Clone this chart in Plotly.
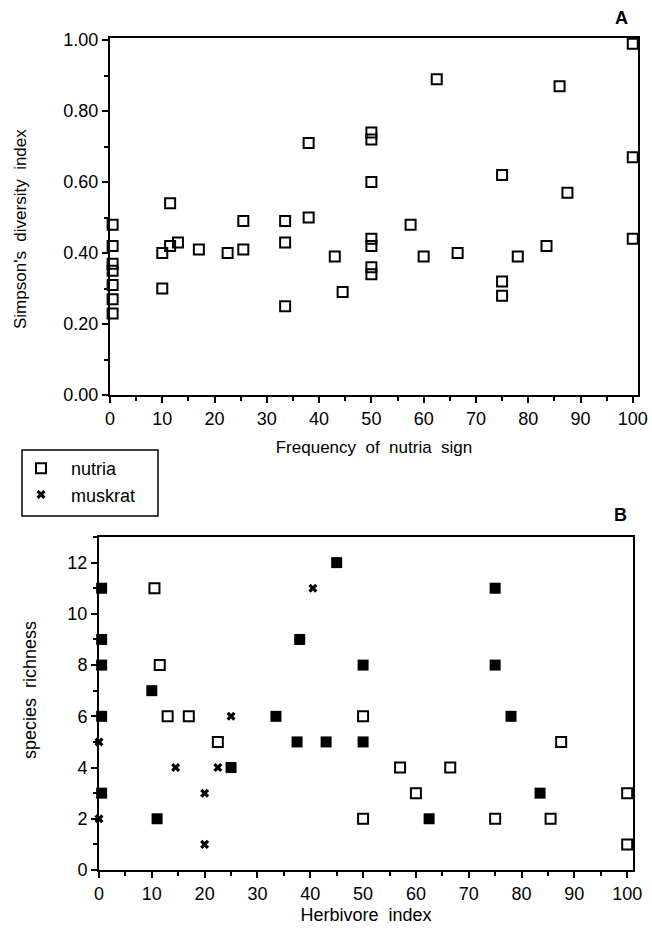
import plotly.graph_objects as go

# Panel A: Simpson's diversity vs frequency of nutria sign (nutria only)
a_x = [0.5, 0.5, 0.5, 0.5, 0.5, 0.5, 0.5,
       10, 10, 11.5, 11.5, 13, 17, 22.5, 25.5, 25.5, 33.5, 33.5, 33.5, 38, 38,
       43, 44.5, 50, 50, 50, 50, 50, 50, 50, 57.5, 60, 62.5, 66.5,
       75, 75, 75, 78, 83.5, 86, 87.5, 100, 100, 100]
a_y = [0.48, 0.42, 0.37, 0.35, 0.31, 0.27, 0.23,
       0.40, 0.30, 0.54, 0.42, 0.43, 0.41, 0.40, 0.49, 0.41, 0.49, 0.43, 0.25, 0.71, 0.50,
       0.39, 0.29, 0.74, 0.72, 0.60, 0.44, 0.42, 0.36, 0.34, 0.48, 0.39, 0.89, 0.40,
       0.62, 0.32, 0.28, 0.39, 0.42, 0.87, 0.57, 0.99, 0.67, 0.44]

# Panel B: species richness vs herbivore index
nutria_x = [10.5, 11.5, 13, 17, 22.5, 50, 57, 66.5, 60, 87.5, 100, 50, 75, 85.5, 100]
nutria_y = [11, 8, 6, 6, 5, 6, 4, 4, 3, 5, 3, 2, 2, 2, 1]
muskrat_x = [0, 0, 14.5, 20, 20, 22.5, 25, 40.5]
muskrat_y = [5, 2, 4, 3, 1, 4, 6, 11]
both_x = [0.5, 0.5, 0.5, 0.5, 0.5, 10, 11, 25, 33.5, 38, 37.5, 43, 45, 75, 50, 75, 78, 50, 83.5, 62.5]
both_y = [11, 9, 8, 6, 3, 7, 2, 4, 6, 9, 5, 5, 12, 11, 8, 8, 6, 5, 3, 2]

FONT = "Liberation Sans, Arial, sans-serif"

fig = go.Figure()
fig.add_trace(go.Scatter(x=a_x, y=a_y, mode="markers", name="nutria", showlegend=False,
                         marker=dict(symbol="square-open", size=10, color="black", line=dict(width=2)),
                         cliponaxis=False, xaxis="x", yaxis="y"))
fig.add_trace(go.Scatter(x=nutria_x, y=nutria_y, mode="markers", name="nutria",
                         marker=dict(symbol="square-open", size=10, color="black", line=dict(width=2)),
                         cliponaxis=False, xaxis="x2", yaxis="y2"))
fig.add_trace(go.Scatter(x=muskrat_x, y=muskrat_y, mode="markers", name="muskrat",
                         marker=dict(symbol="x", size=8, color="black", line=dict(width=0)),
                         cliponaxis=False, xaxis="x2", yaxis="y2"))
fig.add_trace(go.Scatter(x=both_x, y=both_y, mode="markers", name="both", showlegend=False,
                         marker=dict(symbol="square", size=11, color="black", line=dict(width=0)),
                         cliponaxis=False, xaxis="x2", yaxis="y2"))

W, H = 652, 932
def dom_x(l, r):
    return [l / W, r / W]
def dom_y(t, b):
    return [1 - b / H, 1 - t / H]
def px(x):
    return x / W
def py(y):
    return 1 - y / H

minor_common = dict(ticklen=4, tickwidth=2, ticks="outside", tickcolor="black")
axis_common = dict(showline=True, linecolor="black", linewidth=2, mirror=True,
                   ticks="outside", ticklen=6, tickwidth=2, tickcolor="black",
                   showgrid=False, zeroline=False, automargin=False)
xtick_font = dict(family=FONT, size=18, color="black")
ytick_font = dict(family=FONT, size=18, color="black")

fig.update_layout(
    width=W, height=H, margin=dict(l=0, r=0, t=0, b=0, autoexpand=False),
    paper_bgcolor="white", plot_bgcolor="white",
    font=dict(family=FONT, color="black"),
    xaxis=dict(domain=dom_x(110, 638), range=[0, 101], dtick=10, anchor="y",
               minor=dict(dtick=5, **minor_common), tickfont=xtick_font,
               title=dict(text="Frequency  of  nutria  sign", font=dict(size=17, color="black"), standoff=14),
               **axis_common),
    yaxis=dict(domain=dom_y(38, 395), range=[0, 1.006], dtick=0.2, tickformat=".2f", anchor="x",
               minor=dict(dtick=0.1, **minor_common), tickfont=ytick_font,
               **axis_common),
    xaxis2=dict(domain=dom_x(99, 633), range=[0, 101.1], dtick=10, anchor="y2",
                minor=dict(dtick=5, **minor_common), tickfont=xtick_font,
                title=dict(text="Herbivore  index", font=dict(size=18, color="black"), standoff=6),
                **axis_common),
    yaxis2=dict(domain=dom_y(537, 870), range=[0, 13], dtick=2, anchor="x2",
                minor=dict(dtick=1, **minor_common), tickfont=ytick_font,
                **axis_common),
    legend=dict(x=px(11), y=py(450), xanchor="left", yanchor="top",
                borderwidth=0, bgcolor="rgba(0,0,0,0)",
                font=dict(family=FONT, size=18, color="black"), itemwidth=50,
                tracegroupgap=0),
    shapes=[
        dict(type="rect", xref="paper", yref="paper", x0=px(22), x1=px(158), y0=py(516), y1=py(450),
             line=dict(color="black", width=1.5), fillcolor="rgba(0,0,0,0)"),
    ],
    annotations=[
        dict(text="<b>A</b>", x=px(621), y=py(18), xref="paper", yref="paper",
             xanchor="center", yanchor="middle",
             showarrow=False, font=dict(size=18, family=FONT, color="black")),
        dict(text="<b>B</b>", x=px(620), y=py(515), xref="paper", yref="paper",
             xanchor="center", yanchor="middle",
             showarrow=False, font=dict(size=18, family=FONT, color="black")),
        dict(text="Simpson's  diversity  index", x=px(20), y=py(229), xref="paper", yref="paper",
             xanchor="center", yanchor="middle", textangle=-90,
             showarrow=False, font=dict(size=17, family=FONT, color="black")),
        dict(text="species  richness", x=px(30), y=py(690), xref="paper", yref="paper",
             xanchor="center", yanchor="middle", textangle=-90,
             showarrow=False, font=dict(size=18, family=FONT, color="black")),
    ],
)

fig.write_html("out.html", config={"displayModeBar": False},
               post_script="document.body.style.margin='0px';document.body.style.padding='0px';")
